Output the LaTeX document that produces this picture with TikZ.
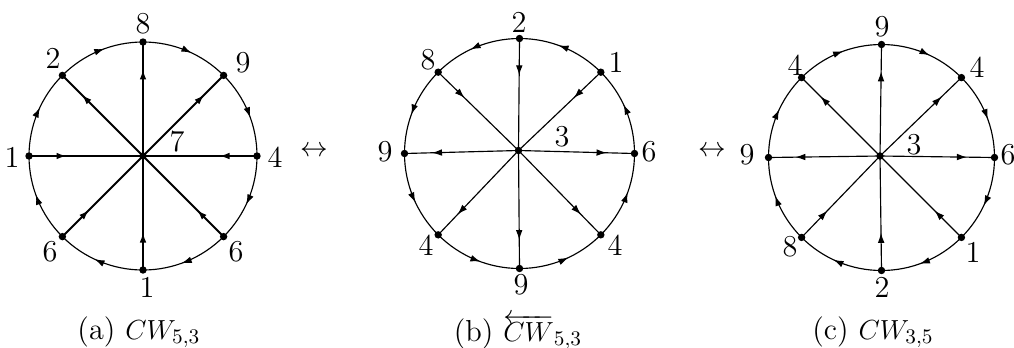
\documentclass[tikz,border=0pt]{standalone}
\usetikzlibrary{decorations.markings,arrows.meta}
\begin{document}
\begin{tikzpicture}[x=0.43478pt,y=0.43478pt,
  lbl/.style={inner sep=0pt,font=\fontsize{13.2}{16}\selectfont},
  rim/.style={line width=0.5pt},
  spokeA/.style={line width=0.8pt},
  spokeB/.style={line width=0.5pt},
  tipmark/.style={postaction={decorate},decoration={markings,mark=at position #1 with {\arrow{Latex[length=4.4pt,width=2.9pt]}}}}]
\useasboundingbox (0,0) rectangle (1014,347);

% ---------- (a) ----------
\begin{scope}[shift={(143,191)}]
  \coordinate (ah) at (0,0);
  \foreach \i/\t in {0/90,1/45,2/0,3/-45,4/-90,5/-135,6/180,7/135}
    \coordinate (a\i) at (\t:114);
  \foreach \i/\t in {0/90,1/45,2/0,3/-45,4/-90,5/-135,6/180,7/135}
    \draw[rim,tipmark=0.56] (a\i) arc[start angle=\t,delta angle=-45,radius=114];
  \foreach \i in {0,1,7}
    \draw[spokeA,tipmark=0.76] (ah) -- (a\i);
  \foreach \i in {2,3,4,5,6}
    \draw[spokeA,tipmark=0.33] (a\i) -- (ah);
  \foreach \i in {0,...,7} \fill (a\i) circle[radius=3.7];
  \fill (ah) circle[radius=3.7];
\end{scope}
\node[lbl] (la0) at (143,323) {8};
\node[lbl] (la1) at (243,284) {9};
\node[lbl] (la2) at (275,190) {4};
\node[lbl] (la3) at (236,95) {6};
\node[lbl] (la4) at (147,60) {1};
\node[lbl] (la5) at (50,95) {6};
\node[lbl] (la6) at (12,190) {1};
\node[lbl] (la7) at (53,289) {2};
\node[lbl] (lah) at (177,205) {7};
\node[lbl,anchor=base] (capa) at (139,8) {(a) $CW_{5,3}$};

\node[lbl] (arr1) at (314,196) {$\leftrightarrow$};

% ---------- (b) ----------
\begin{scope}[shift={(519.5,193.5)}]
  \coordinate (bh) at (-1,3);
  \foreach \i/\t in {0/90,1/45,2/0,3/-45,4/-90,5/-135,6/180,7/135}
    \coordinate (b\i) at (\t:115);
  \foreach \i/\t in {0/90,1/45,2/0,3/-45,4/-90,5/-135,6/180,7/135}
    \draw[rim,tipmark=0.56] (b\i) arc[start angle=\t,delta angle=45,radius=115];
  \foreach \i in {0,1,7}
    \draw[spokeB,tipmark=0.33] (b\i) -- (bh);
  \foreach \i in {2,3,4,5,6}
    \draw[spokeB,tipmark=0.76] (bh) -- (b\i);
  \foreach \i in {0,...,7} \fill (b\i) circle[radius=3.7];
  \fill (bh) circle[radius=3.7];
\end{scope}
\node[lbl] (lb0) at (519,325) {2};
\node[lbl] (lb1) at (616,285) {1};
\node[lbl] (lb2) at (649,195) {6};
\node[lbl] (lb3) at (615,102) {4};
\node[lbl] (lb4) at (521,62) {9};
\node[lbl] (lb5) at (426,102) {4};
\node[lbl] (lb6) at (385,195) {9};
\node[lbl] (lb7) at (428,287) {8};
\node[lbl] (lbh) at (562,210) {3};
\node[lbl,anchor=base] (capb) at (518,6) {(b) $\overleftarrow{CW}_{5,3}$};

\node[lbl] (arr2) at (712,196) {$\leftrightarrow$};

% ---------- (c) ----------
\begin{scope}[shift={(881.5,189.5)}]
  \coordinate (ch) at (-1.5,1.5);
  \foreach \i/\t in {0/90,1/45,2/0,3/-45,4/-90,5/-135,6/180,7/135}
    \coordinate (c\i) at (\t:113);
  \foreach \i/\t in {0/90,1/45,2/0,3/-45,4/-90,5/-135,6/180,7/135}
    \draw[rim,tipmark=0.56] (c\i) arc[start angle=\t,delta angle=-45,radius=113];
  \foreach \i in {0,1,2,6,7}
    \draw[spokeB,tipmark=0.76] (ch) -- (c\i);
  \foreach \i in {3,4,5}
    \draw[spokeB,tipmark=0.33] (c\i) -- (ch);
  \foreach \i in {0,...,7} \fill (c\i) circle[radius=3.7];
  \fill (ch) circle[radius=3.7];
\end{scope}
\node[lbl] (lc0) at (882,320) {9};
\node[lbl] (lc1) at (977,280) {4};
\node[lbl] (lc2) at (1008,192) {6};
\node[lbl] (lc3) at (973,95) {1};
\node[lbl] (lc4) at (882,60) {2};
\node[lbl] (lc5) at (790,100) {8};
\node[lbl] (lc6) at (747,192) {9};
\node[lbl] (lc7) at (795,282) {4};
\node[lbl] (lch) at (914,202) {3};
\node[lbl,anchor=base] (capc) at (873,8) {(c) $CW_{3,5}$};
\end{tikzpicture}
\end{document}
